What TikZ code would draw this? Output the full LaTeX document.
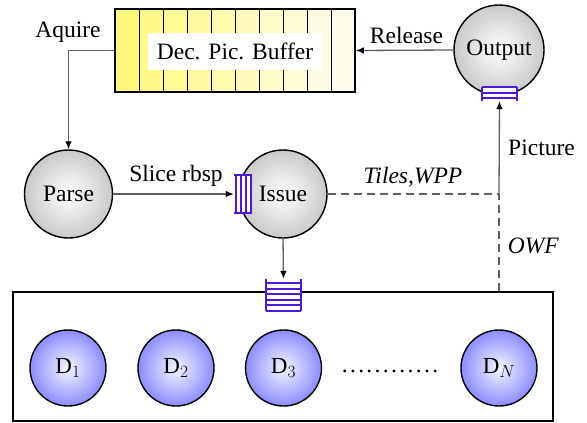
\documentclass[tikz,border=0pt]{standalone}
\usepackage{fontspec}
\setmainfont{Liberation Serif}
\usetikzlibrary{arrows.meta,calc}
\definecolor{qblue}{RGB}{75,25,215}
\definecolor{lgray}{RGB}{95,95,95}
\newcommand\mainsz{\fontsize{23.5}{28}\selectfont}
\newcommand\dsz{\fontsize{23}{27}\selectfont}
\begin{document}
\begin{tikzpicture}[x=1pt,y=-1pt,
  gball/.style={circle, draw=black, line width=1.4pt, minimum size=88pt, inner sep=0pt,
    inner color=white, outer color=gray!42, font=\mainsz},
  dball/.style={circle, draw=black, line width=1.4pt, minimum size=76pt, inner sep=0pt,
    inner color=blue!4, outer color=blue!45, font=\dsz},
  lbl/.style={font=\mainsz, inner sep=0pt, anchor=base},
  conn/.style={draw=lgray, line width=1.3pt, -{Latex[length=8pt,width=6.5pt,color=black]}},
  dconn/.style={draw=lgray, line width=1.3pt, dash pattern=on 8pt off 5pt},
  qline/.style={draw=qblue, line width=2pt},
  qbox/.style={inner sep=0pt, fill=white},
  cellline/.style={draw=black, line width=1pt}
]
\useasboundingbox (0,0) rectangle (587,423);

% Decoded picture buffer
\foreach \i in {0,...,9} {
  \pgfmathsetmacro\pc{52-5*\i}
  \fill[yellow!\pc] (115+24*\i,9) rectangle (139+24*\i,92);
}
\foreach \i in {0,...,8} {
  \draw[cellline] (139+24*\i,9) -- (139+24*\i,92);
}
\node[fill=white, minimum width=174pt, minimum height=37pt, inner sep=0pt, font=\mainsz] (dpbl) at (235,51.5) {Dec. Pic. Buffer};
\node[draw=black, line width=1.6pt, minimum width=240pt, minimum height=83pt, inner sep=0pt] (dpb) at (235,50.5) {};

% processes
\node[gball] (parse) at (68.5,194) {Parse};
\node[gball] (issue) at (283,194) {Issue};
\node[gball, minimum size=90pt] (output) at (499,50) {Output};

% decoder pool
\node[draw=black, line width=1.6pt, minimum width=540pt, minimum height=129pt, inner sep=0pt] (pool) at (283,356.5) {};
\node[dball] (d1) at (68,368) {$\mathrm{D}_1$};
\node[dball] (d2) at (176,368) {$\mathrm{D}_2$};
\node[dball] (d3) at (283.5,368) {$\mathrm{D}_3$};
\node[dball] (dn) at (499,368) {$\mathrm{D}_N$};
\node[font=\mainsz, inner sep=0pt, anchor=base] (dots) at (390,372) {\addfontfeatures{LetterSpace=10}............};

% queues
\node[qbox, minimum width=18pt, minimum height=38pt] (qi) at (243,194) {};
\draw[qline] (234,175) -- (252,175) (234,213) -- (252,213);
\foreach \x in {236,241,246,251} \draw[qline] (\x,175) -- (\x,213);

\node[qbox, minimum width=35pt, minimum height=32pt] (qb) at (283.5,295) {};
\draw[qline] (266,279) -- (266,311) (301,279) -- (301,311);
\foreach \y in {283,288.5,294,299.5,305,310.5} \draw[qline] (266,\y) -- (301,\y);

\node[qbox, minimum width=35pt, minimum height=14pt] (qo) at (499.5,94) {};
\draw[qline] (482,87) -- (482,101) (517,87) -- (517,101);
\foreach \y in {87,92.5,98} \draw[qline] (482,\y) -- (517,\y);

% connectors
\draw[conn] (dpb.west) -| (parse.north);
\draw[conn] (output.west) -- (dpb.east);
\draw[conn] (parse.east) -- (qi.west);
\draw[conn] (issue.south) -- (qb.north);
\coordinate (jn) at (output.south |- issue.east);
\draw[dconn] (issue.east) -- (jn);
\draw[dconn] (pool.north -| jn) -- (jn);
\draw[conn] (jn) -- (qo.south);

% labels
\node[lbl] (laq) at (68,37) {Aquire};
\node[lbl] (lrel) at (406.5,43.5) {Release};
\node[lbl] (lsl) at (176,181) {Slice rbsp};
\node[lbl] (ltl) at (413,183) {\textit{Tiles,WPP}};
\node[lbl] (lpic) at (541.5,155) {Picture};
\node[lbl] (lowf) at (533.5,253) {\textit{OWF}};
\end{tikzpicture}
\end{document}
